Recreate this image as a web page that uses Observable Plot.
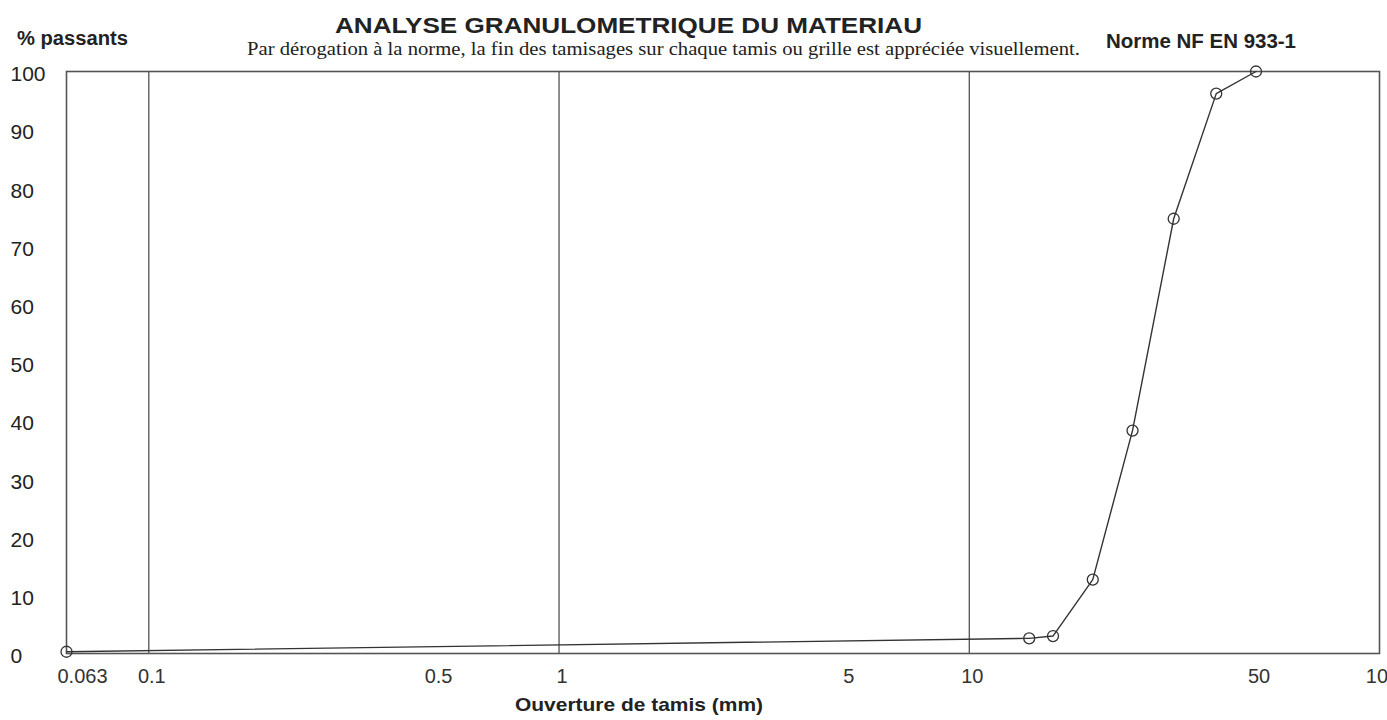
<!DOCTYPE html>
<html>
<head>
<meta charset="utf-8">
<script src="https://cdn.jsdelivr.net/npm/d3@7"></script>
<script src="https://cdn.jsdelivr.net/npm/@observablehq/plot@0.6"></script>
<style>
  html, body { margin: 0; padding: 0; background: #fff; }
  #chart svg { display: block; overflow: visible; }
</style>
</head>
<body>
<div id="chart"></div>
<script>
// Data
const sieves = [0.063, 14, 16, 20, 25, 31.5, 40, 50];           // sieve opening (mm)
const passing = [0.3, 2.6, 3.0, 12.7, 38.3, 74.7, 96.2, 100];   // % passing
const xTicks = [0.063, 0.1, 0.5, 1, 5, 10, 50, 100];
const xTickLabels = ["0.063", "0.1", "0.5", "1", "5", "10", "50", "100"];
const yTicks = [0, 10, 20, 30, 40, 50, 60, 70, 80, 90, 100];
const gridX = [0.1, 1, 10];

const title = "ANALYSE GRANULOMETRIQUE DU MATERIAU";
const subtitle = "Par dérogation à la norme, la fin des tamisages sur chaque tamis ou grille est appréciée visuellement.";
const yLabel = "% passants";
const normLabel = "Norme NF EN 933-1";
const xLabel = "Ouverture de tamis (mm)";

const data = sieves.map((s, i) => ({sieve: s, pct: passing[i]}));
const firstTick = xTicks.slice(0, 1);
const otherTicks = xTicks.slice(1);

const chart = Plot.plot({
  width: 1387,
  height: 720,
  marginLeft: 66,
  marginRight: 8,
  marginTop: 71,
  marginBottom: 67,
  style: {fontFamily: "'Liberation Sans', Arial, sans-serif", background: "#fff", color: "#222"},
  x: {type: "log", domain: [0.063, 100], axis: null},
  y: {domain: [0, 100], axis: null},
  marks: [
    Plot.ruleX(gridX, {stroke: "#444", strokeWidth: 1.2}),
    Plot.frame({stroke: "#555", strokeWidth: 1.6}),
    Plot.line(data, {x: "sieve", y: "pct", stroke: "#333", strokeWidth: 1.4}),
    Plot.dot(data, {x: "sieve", y: "pct", r: 5.5, stroke: "#333", fill: "none", strokeWidth: 1.3}),
    Plot.text(yTicks, {y: d => d, text: d => String(d), frameAnchor: "left", textAnchor: "start", dx: -56, dy: 3, fontSize: 21, fill: "#222"}),
    Plot.text(firstTick, {x: d => d, text: d => xTickLabels[xTicks.indexOf(d)], frameAnchor: "bottom", dy: 29, dx: 16, fontSize: 20, fill: "#333"}),
    Plot.text(otherTicks, {x: d => d, text: d => xTickLabels[xTicks.indexOf(d)], frameAnchor: "bottom", dy: 29, dx: 3, fontSize: 20, fill: "#333"})
  ]
});

document.getElementById("chart").appendChild(chart);

// Header and axis titles as real SVG text
const svg = d3.select(chart);
function addText(str, x, y, size, weight, family, len) {
  const t = svg.append("text")
    .attr("x", x).attr("y", y)
    .attr("text-anchor", "start")
    .attr("font-size", size)
    .attr("font-weight", weight)
    .attr("font-family", family)
    .attr("fill", "#222")
    .text(str);
  if (len) t.attr("textLength", len).attr("lengthAdjust", "spacingAndGlyphs");
  return t;
}
const sans = "'Liberation Sans', Arial, sans-serif";
const serif = "'Liberation Serif', 'Times New Roman', serif";
addText(title, 335, 33, 22, "bold", sans, 587);
addText(subtitle, 247, 55, 18, "normal", serif, 833);
addText(yLabel, 17, 45, 20, "bold", sans, 111);
addText(normLabel, 1106, 48, 20, "bold", sans, 190);
addText(xLabel, 515, 711, 19, "bold", sans, 248);
</script>
</body>
</html>
